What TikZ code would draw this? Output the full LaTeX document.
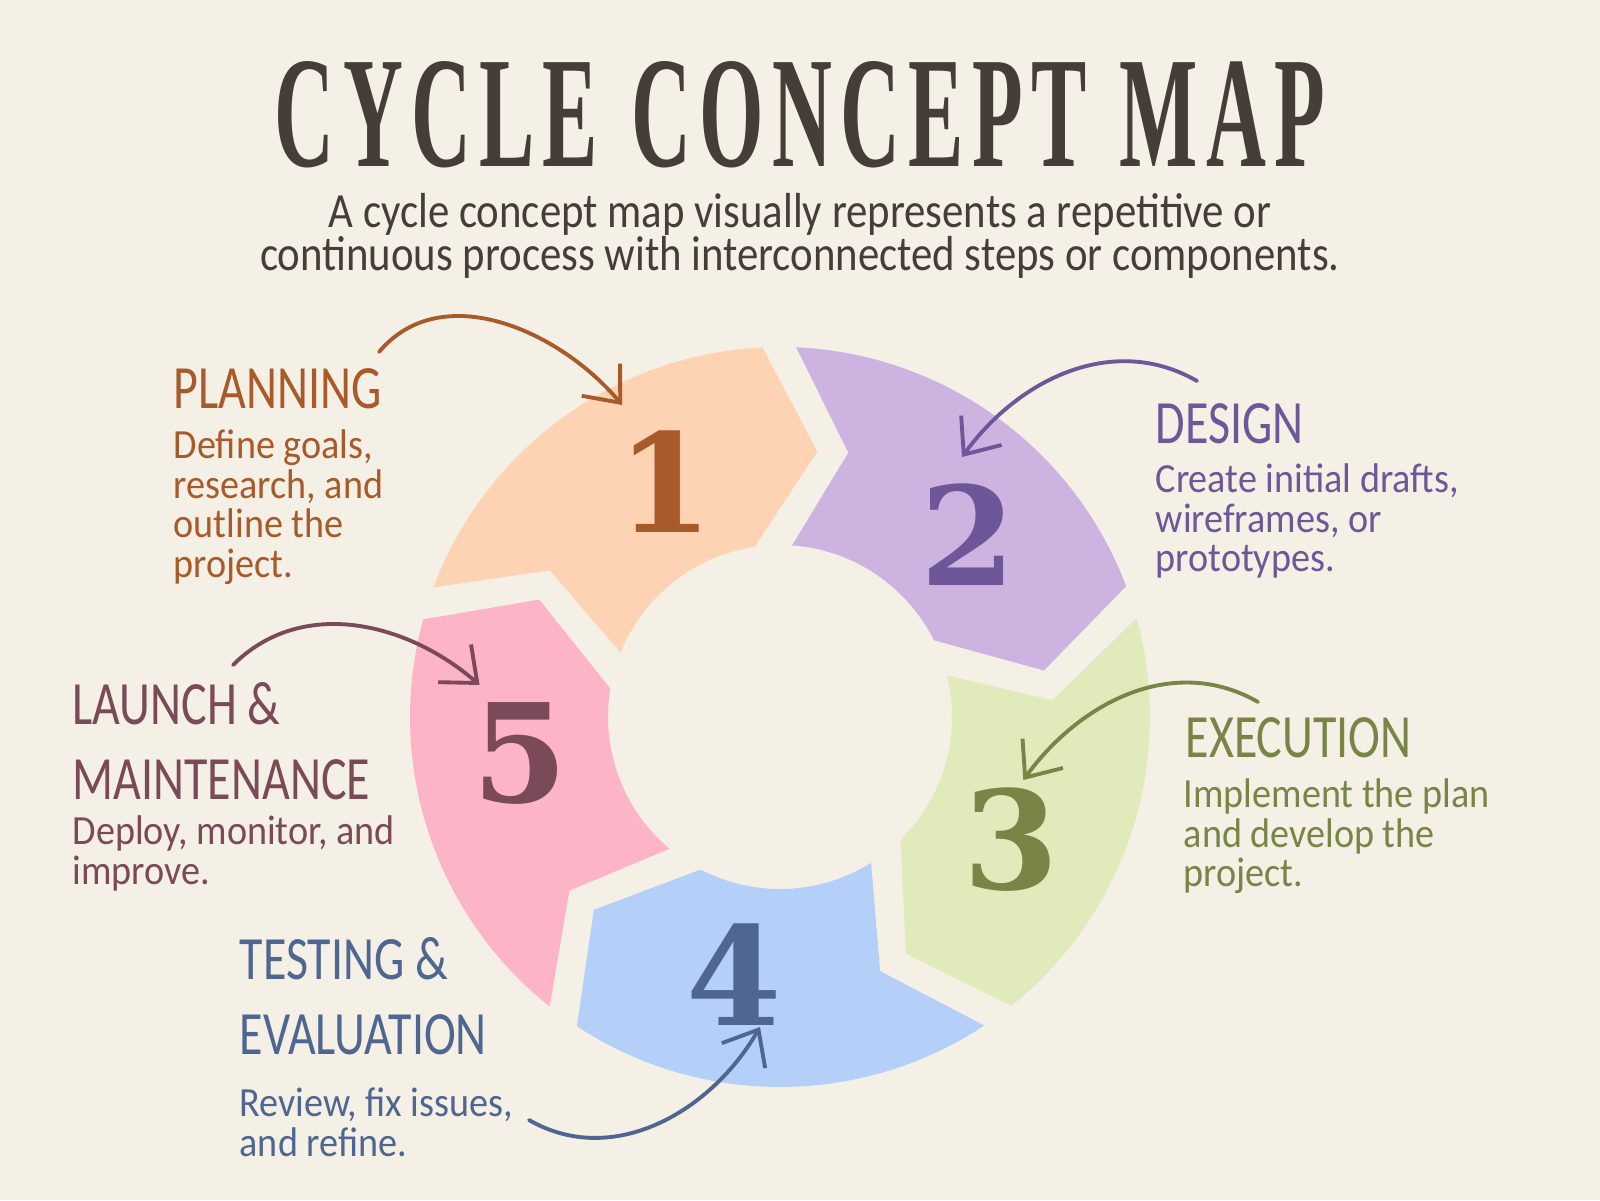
\documentclass[tikz,border=0pt]{standalone}
\usepackage{fontspec}
\usepackage{graphicx}
\usetikzlibrary{arrows.meta,positioning}
\setmainfont{Carlito}
\newfontfamily\handfont{Carlito}[FakeStretch=0.92]
\newfontfamily\subfont{Carlito}[FakeStretch=0.87]
\newfontfamily\headfont{Carlito}[FakeStretch=0.78]
\newfontfamily\titlefont{Liberation Serif}[LetterSpace=10]
\newfontfamily\numfont{DejaVu Serif}

\definecolor{paper}{HTML}{F4F0E6}
\definecolor{ink}{HTML}{463C38}
\definecolor{planfill}{HTML}{FDD3B4}
\definecolor{plantext}{HTML}{A85A2A}
\definecolor{designfill}{HTML}{CCB3E0}
\definecolor{designtext}{HTML}{6E5799}
\definecolor{execfill}{HTML}{E1EABB}
\definecolor{exectext}{HTML}{788547}
\definecolor{testfill}{HTML}{B4D0F8}
\definecolor{testtext}{HTML}{4F6690}
\definecolor{launchfill}{HTML}{FDB4C7}
\definecolor{launchtext}{HTML}{7B4A58}

\tikzset{
  heading/.style={anchor=north west, inner sep=0pt, align=left,
    font=\headfont\fontsize{17.5}{21.3}\selectfont},
  blurb/.style={anchor=north west, inner sep=0pt, align=left,
    font=\handfont\fontsize{11.8}{11.3}\selectfont},
  digit/.style={inner sep=0pt, font=\numfont\bfseries\fontsize{39}{39}\selectfont},
  pointer/.style={line width=1.1pt, line cap=round,
    -{Straight Barb[length=3mm,width=5mm]}},
}

% one arrow-shaped piece of the ring, #1 = angle of its leading edge
\newcommand{\ringpiece}[2]{%
  \fill[#2] (#1+69.5:3.70) arc[start angle=#1+69.5, end angle=#1+2.7, radius=3.70]
    -- (#1-8:2.68) -- (#1+8.5:1.72) arc[start angle=#1+8.5, end angle=#1+68, radius=1.72]
    -- (#1+57.5:2.73) -- cycle;}

\begin{document}
\begin{tikzpicture}
  \fill[paper] (0,0) rectangle (16,12);
  \useasboundingbox (0,0) rectangle (16,12);

  \node[text=ink, inner sep=0pt] (title) at (8.00,10.85)
    {\resizebox{10.5cm}{1.05cm}{\titlefont\bfseries CYCLE\hspace{0.4em}CONCEPT\hspace{0.4em}MAP}};
  \node[text=ink, inner sep=0pt, align=center, anchor=north,
    font=\subfont\fontsize{14}{12.2}\selectfont] (sub) at (8.00,10.07)
    {A cycle concept map visually represents a repetitive or\\
     continuous process with interconnected steps or components.};

  \begin{scope}[shift={(7.80,4.83)}]
    \ringpiece{90}{planfill}
    \ringpiece{18}{designfill}
    \ringpiece{-54}{execfill}
    \ringpiece{-126}{testfill}
    \ringpiece{162}{launchfill}
    \node[digit, text=plantext] (n1) at (116:2.62) {1};
    \node[digit, text=designtext] (n2) at (44:2.62) {2};
    \node[digit, text=exectext] (n3) at (-28:2.62) {3};
    \node[digit, text=testtext] (n4) at (-100:2.62) {4};
    \node[digit, text=launchtext] (n5) at (188:2.62) {5};
  \end{scope}

  \node[heading, text=plantext] (planT) at (1.73,8.32) {PLANNING};
  \node[blurb, text=plantext] (planB) at (1.73,7.71)
    {Define goals,\\research, and\\outline the\\project.};
  \node[heading, text=designtext] (designT) at (11.55,7.97) {DESIGN};
  \node[blurb, text=designtext] (designB) at (11.55,7.37)
    {Create initial drafts,\\wireframes, or\\prototypes.};
  \node[heading, text=exectext] (execT) at (11.85,4.83) {EXECUTION};
  \node[blurb, text=exectext] (execB) at (11.83,4.22)
    {Implement the plan\\and develop the\\project.};
  \node[heading, text=testtext] (testT) at (2.39,2.63) {TESTING \&\\EVALUATION};
  \node[blurb, text=testtext] (testB) at (2.39,1.13)
    {Review, fix issues,\\and refine.};
  \node[heading, text=launchtext] (launchT) at (0.72,5.18) {LAUNCH \&\\MAINTENANCE};
  \node[blurb, text=launchtext] (launchB) at (0.72,3.85)
    {Deploy, monitor, and\\improve.};

  \coordinate (planA) at (3.79,8.48);
  \coordinate (designA) at (11.97,8.19);
  \coordinate (execA) at (12.58,4.98);
  \coordinate (testA) at (5.29,0.80);
  \coordinate (launchA) at (2.33,5.35);
  \draw[pointer, plantext] (planA) to[out=50, in=130] ([shift={(-0.43,0.765)}]n1.center);
  \draw[pointer, designtext] (designA) to[out=150, in=54] ([shift={(-0.065,0.78)}]n2.center);
  \draw[pointer, exectext] (execA) to[out=150, in=54] ([shift={(0.12,0.60)}]n3.center);
  \draw[pointer, testtext] (testA) to[out=-30, in=240] ([shift={(0.255,-0.52)}]n4.center);
  \draw[pointer, launchtext] (launchA) to[out=45, in=139] ([shift={(-0.41,0.685)}]n5.center);
\end{tikzpicture}
\end{document}
